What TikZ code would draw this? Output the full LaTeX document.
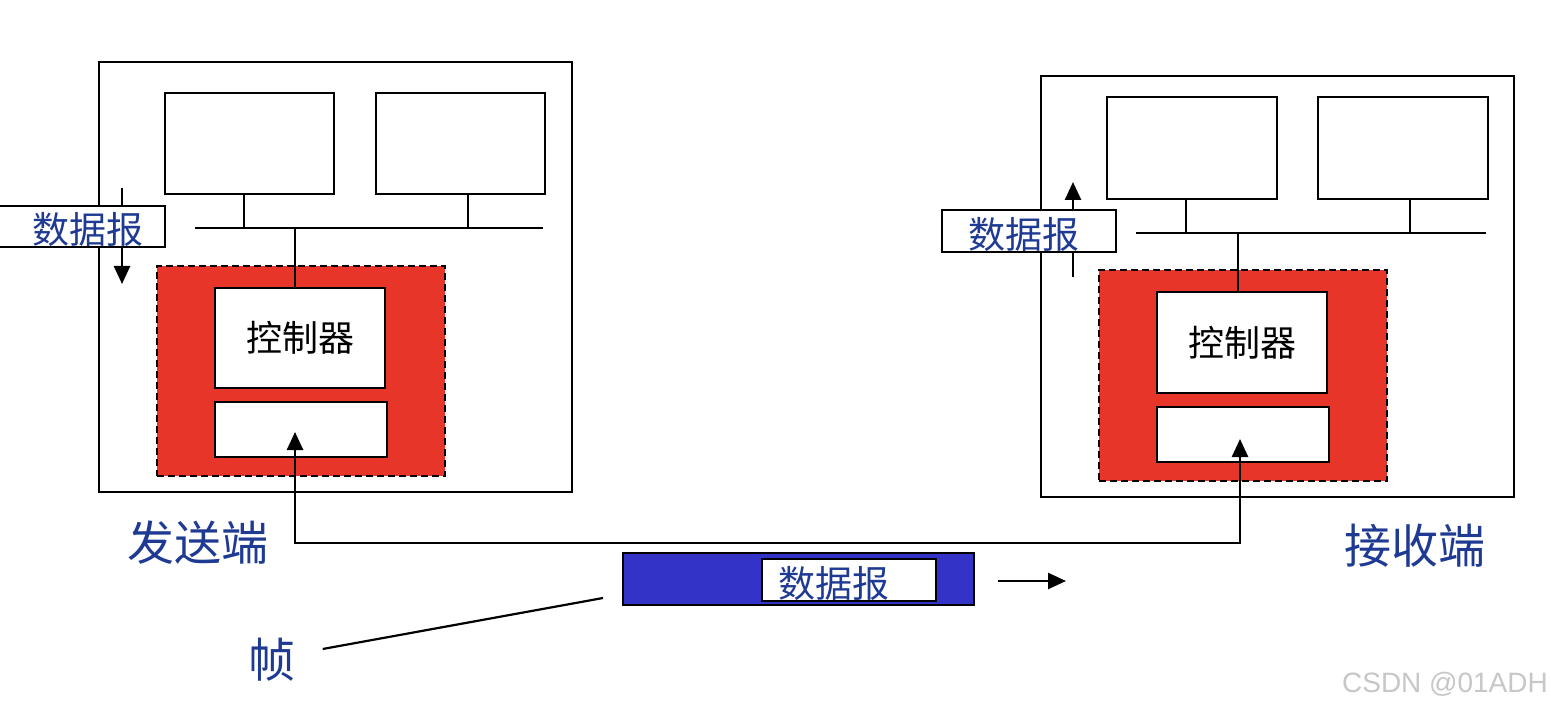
\documentclass[tikz,border=0pt]{standalone}
\usepackage{fontspec}
\newfontfamily\cjk{Noto Sans CJK SC}
\setsansfont{Liberation Sans}
\usetikzlibrary{arrows.meta}
\definecolor{lblblue}{HTML}{1F3A93}
\definecolor{boxred}{HTML}{E8352A}
\definecolor{framblue}{HTML}{3333C8}
\begin{document}
\begin{tikzpicture}[x=1pt,y=-1pt,
  bx/.style={draw=black,line width=2.6pt,fill=white,inner sep=0pt,minimum width=#1},
  bx/.default=10pt,
  redbox/.style={draw=black,dash pattern=on 7pt off 4pt,line width=2.2pt,fill=boxred,inner sep=0pt},
  ln/.style={line width=2.6pt},
  tip/.tip={Triangle[length=18pt,width=16pt]},
  arr/.style={line width=2.6pt,-tip},
  dgtext/.style={font=\cjk\fontsize{37}{40}\selectfont,text=lblblue,inner sep=0pt},
  ctltext/.style={font=\cjk\fontsize{36}{40}\selectfont,text=black},
  bigtext/.style={font=\cjk\fontsize{47}{50}\selectfont,text=lblblue,inner sep=0pt}
]
\useasboundingbox (0,0) rectangle (1551,711);
\fill[white] (0,0) rectangle (1551,711);

% ---------- sender ----------
\node[bx=473pt,minimum height=430pt] (outL) at (335.5,277) {};
\node[bx=169pt,minimum height=101pt] (monL1) at (249.5,143.5) {};
\node[bx=169pt,minimum height=101pt] (monL2) at (460.5,143.5) {};
\coordinate (busL1) at (195,228);
\coordinate (busL2) at (543,228);
\draw[ln] (busL1) -- (busL2);
\draw[ln] ([xshift=-5.5pt]monL1.south) -- ([xshift=-5.5pt]monL1.south |- busL1);
\draw[ln] ([xshift=7.5pt]monL2.south) -- ([xshift=7.5pt]monL2.south |- busL1);
\node[redbox,minimum width=288pt,minimum height=210pt] (redL) at (301,371) {};
\node[bx=170pt,minimum height=100pt,ctltext] (ctlL) at (300,338) {控制器};
\node[bx=172pt,minimum height=55pt] (lowL) at (301,429.5) {};
\draw[ln] (ctlL.north -| 295,0) -- (busL1 -| 295,0);
\coordinate (dgLtop) at (122,188);
\coordinate (dgLbot) at (122,284);
\draw[arr] (dgLtop) -- (dgLbot);
\node[bx=166pt,minimum height=41pt] (dgL) at (82,226.5) {};
\node[dgtext] (dgLt) at (88,229) {数据报};
\node[bigtext] (send) at (198,543) {发送端};

% ---------- receiver ----------
\node[bx=473pt,minimum height=421pt] (outR) at (1277.5,286.5) {};
\node[bx=170pt,minimum height=102pt] (monR1) at (1192,148) {};
\node[bx=170pt,minimum height=102pt] (monR2) at (1403,148) {};
\coordinate (busR1) at (1136,233);
\coordinate (busR2) at (1486,233);
\draw[ln] (busR1) -- (busR2);
\draw[ln] ([xshift=-6pt]monR1.south) -- ([xshift=-6pt]monR1.south |- busR1);
\draw[ln] ([xshift=7pt]monR2.south) -- ([xshift=7pt]monR2.south |- busR1);
\node[redbox,minimum width=288pt,minimum height=211pt] (redR) at (1243,375.5) {};
\node[bx=170pt,minimum height=101pt,ctltext] (ctlR) at (1242,342.5) {控制器};
\node[bx=172pt,minimum height=55pt] (lowR) at (1243,434.5) {};
\draw[ln] (ctlR.north -| 1238,0) -- (busR1 -| 1238,0);
\coordinate (dgRbot) at (1073,277);
\coordinate (dgRtop) at (1073,182);
\draw[arr] (dgRbot) -- (dgRtop);
\node[bx=174pt,minimum height=42pt] (dgR) at (1029,231) {};
\node[dgtext] (dgRt) at (1024,234) {数据报};
\node[bigtext] (recv) at (1415,546) {接收端};

% ---------- link ----------
\coordinate (tipL) at (295,432);
\coordinate (tipR) at (1240,439);
\coordinate (linkL) at (295,543);
\coordinate (linkR) at (1240,543);
\draw[line width=2.6pt,tip-tip] (tipL) -- (linkL) -- (linkR) -- (tipR);

% ---------- frame ----------
\node[draw=black,line width=2.6pt,fill=framblue,inner sep=0pt,minimum width=351pt,minimum height=52pt] (frame) at (798.5,579) {};
\node[bx=174pt,minimum height=42pt] (dgF) at (849,580) {};
\node[dgtext] (dgFt) at (834,583) {数据报};
\coordinate (mvA) at (998,581);
\coordinate (mvB) at (1066,581);
\draw[arr] (mvA) -- (mvB);
\node[bigtext] (zhen) at (272,660) {帧};
\coordinate (ptr) at (603,598);
\draw[line width=2.2pt] ([xshift=27pt,yshift=11pt]zhen.east) -- (ptr);

% watermark
\node[font=\sffamily\fontsize{28}{30}\selectfont,text=black!22,inner sep=0pt] (wm) at (1445,684) {CSDN @01ADH};
\end{tikzpicture}
\end{document}
